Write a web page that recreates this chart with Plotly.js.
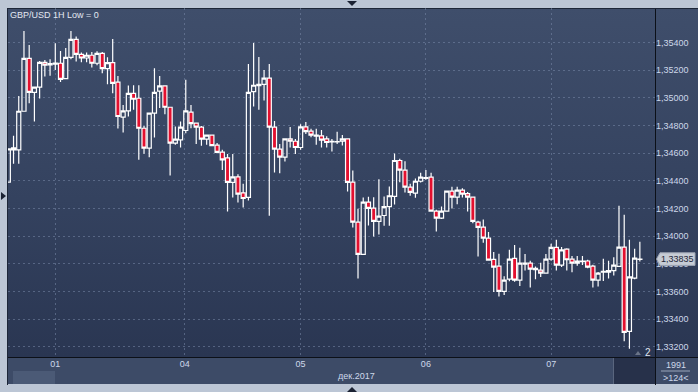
<!DOCTYPE html>
<html>
<head>
<meta charset="utf-8">
<script src="https://cdn.plot.ly/plotly-3.0.1.min.js"></script>
<style>
  html, body { margin:0; padding:0; }
  body { width:698px; height:392px; position:relative; overflow:hidden; background:#bcc6d5; }
  .abs { position:absolute; }
  #plotbg { left:8px; top:8px; width:690px; height:349px; background:linear-gradient(to bottom, #3f4e6b 0%, #34425f 55%, #2a3652 100%); }
  #band { left:8px; top:357px; width:690px; height:27px; background:#3d4b67; }
  #thumb { left:13px; top:371px; width:42px; height:13px; background:#4b5a76; }
  #darkbox { left:613px; top:358px; width:42px; height:26px; background:#27314a; border-left:1px solid #5a667e; }
  #hline { left:8px; top:357px; width:690px; height:1px; background:#0c1018; }
  #vline { left:655px; top:8px; width:1px; height:377px; background:#0c1018; }
  #topline { left:8px; top:8px; width:690px; height:1px; background:#1d2638; }
  #leftline { left:7px; top:8px; width:1px; height:377px; background:#1d2638; }
  #triTop { left:347px; top:1px; width:0; height:0; border-left:5px solid transparent; border-right:5px solid transparent; border-top:5px solid #1b2233; }
  #triLeft { left:1px; top:192px; width:0; height:0; border-top:4px solid transparent; border-bottom:4px solid transparent; border-left:5px solid #1b2233; }
  #triBot { left:347px; top:387px; width:0; height:0; border-left:5px solid transparent; border-right:5px solid transparent; border-bottom:5px solid #1b2233; }
  #triTwo { left:635px; top:351px; width:0; height:0; border-left:3px solid transparent; border-right:3px solid transparent; border-bottom:4px solid #6a7488; }
  #chart { position:absolute; left:0; top:0; width:698px; height:392px; }
</style>
</head>
<body>
<div class="abs" id="plotbg"></div>
<div class="abs" id="band"></div>
<div class="abs" id="thumb"></div>
<div class="abs" id="darkbox"></div>
<div class="abs" id="hline"></div>
<div class="abs" id="vline"></div>
<div class="abs" id="topline"></div>
<div class="abs" id="leftline"></div>
<div class="abs" id="triTop"></div>
<div class="abs" id="triLeft"></div>
<div class="abs" id="triBot"></div>
<div class="abs" id="triTwo"></div>
<div id="chart"></div>
<script>
// ---- data (hourly candles, GBP/USD) ----
const openP = [1.34391,1.34639,1.34625,1.34904,1.35287,1.35041,1.35078,1.35258,1.35239,1.35244,
1.35251,1.35140,1.35294,1.35424,1.35316,1.35289,1.35309,1.35251,1.35323,1.35212,
1.35256,1.35114,1.34861,1.34907,1.35034,1.34998,1.34781,1.34637,1.34890,1.35049,
1.35087,1.34933,1.34673,1.34697,1.34765,1.34897,1.34818,1.34789,1.34702,1.34731,
1.34659,1.34608,1.34567,1.34389,1.34430,1.34314,1.34281,1.35046,1.35090,1.35099,
1.35143,1.34789,1.34630,1.34572,1.34704,1.34687,1.34642,1.34791,1.34760,1.34724,
1.34726,1.34704,1.34683,1.34683,1.34687,1.34704,1.34391,1.34102,1.33869,1.34247,
1.34203,1.34107,1.34150,1.34215,1.34288,1.34548,1.34478,1.34355,1.34312,1.34398,
1.34418,1.34427,1.34182,1.34131,1.34182,1.34326,1.34283,1.34333,1.34309,1.34283,
1.34102,1.34066,1.33987,1.33833,1.33784,1.33601,1.33690,1.33840,1.33683,1.33799,
1.33806,1.33758,1.33755,1.33734,1.33835,1.33919,1.33792,1.33907,1.33835,1.33806,
1.33816,1.33821,1.33784,1.33683,1.33741,1.33741,1.33751,1.33782,1.33922,1.33312,
1.33698,1.33833];
const highP = [1.34632,1.34726,1.35015,1.35485,1.35383,1.35078,1.35268,1.35275,1.35280,1.35395,
1.35340,1.35362,1.35485,1.35444,1.35328,1.35328,1.35333,1.35338,1.35333,1.35294,
1.35427,1.35159,1.34950,1.35090,1.35092,1.35092,1.34798,1.34890,1.35215,1.35159,
1.35087,1.34933,1.34793,1.34830,1.35131,1.34950,1.34818,1.34798,1.34731,1.34731,
1.34675,1.34625,1.34594,1.34594,1.34449,1.34379,1.35246,1.35398,1.35297,1.35203,
1.35246,1.34834,1.34668,1.34709,1.34791,1.34704,1.34810,1.34827,1.34777,1.34777,
1.34769,1.34724,1.34704,1.34755,1.34733,1.34709,1.34475,1.34199,1.34281,1.34285,
1.34283,1.34413,1.34288,1.34360,1.34598,1.34560,1.34543,1.34379,1.34418,1.34459,
1.34480,1.34459,1.34191,1.34215,1.34331,1.34358,1.34358,1.34348,1.34321,1.34288,
1.34112,1.34122,1.34030,1.33886,1.33874,1.33710,1.33902,1.33936,1.33917,1.33871,
1.33823,1.33782,1.33808,1.33871,1.33946,1.33975,1.33922,1.33914,1.33857,1.33857,
1.33857,1.33830,1.33794,1.33741,1.33837,1.33823,1.33849,1.34220,1.34155,1.33975,
1.33910,1.33960];
const lowP = [1.34391,1.34524,1.34524,1.34904,1.34962,1.34830,1.34996,1.35155,1.35160,1.35203,
1.35116,1.35135,1.35280,1.35263,1.35258,1.35258,1.35220,1.35237,1.35179,1.35099,
1.35034,1.34779,1.34750,1.34866,1.34914,1.34553,1.34596,1.34572,1.34714,1.34928,
1.34883,1.34440,1.34661,1.34642,1.34745,1.34781,1.34668,1.34654,1.34661,1.34656,
1.34601,1.34480,1.34179,1.34281,1.34244,1.34208,1.34259,1.34938,1.34914,1.34981,
1.34148,1.34461,1.34456,1.34541,1.34642,1.34594,1.34625,1.34740,1.34716,1.34661,
1.34642,1.34642,1.34613,1.34668,1.34656,1.34324,1.34064,1.33695,1.33869,1.34078,
1.33999,1.34013,1.34076,1.34076,1.34230,1.34391,1.34317,1.34293,1.34278,1.34389,
1.34408,1.34182,1.34035,1.34124,1.34177,1.34201,1.34232,1.34281,1.34179,1.34095,
1.33854,1.33953,1.33825,1.33597,1.33565,1.33575,1.33674,1.33671,1.33640,1.33753,
1.33630,1.33690,1.33705,1.33729,1.33823,1.33753,1.33777,1.33753,1.33739,1.33787,
1.33792,1.33768,1.33630,1.33637,1.33676,1.33695,1.33717,1.33782,1.33240,1.33187,
1.33690,1.33818];
const closeP = [1.34632,1.34625,1.34904,1.35287,1.35041,1.35078,1.35258,1.35237,1.35249,1.35253,
1.35135,1.35294,1.35424,1.35316,1.35289,1.35309,1.35251,1.35323,1.35212,1.35256,
1.35106,1.34866,1.34907,1.35034,1.34991,1.34781,1.34637,1.34890,1.35041,1.35087,
1.34933,1.34673,1.34702,1.34789,1.34907,1.34815,1.34789,1.34702,1.34731,1.34656,
1.34606,1.34553,1.34389,1.34430,1.34305,1.34273,1.35041,1.35092,1.35099,1.35143,
1.34789,1.34630,1.34572,1.34704,1.34687,1.34642,1.34791,1.34757,1.34731,1.34731,
1.34695,1.34678,1.34687,1.34685,1.34704,1.34389,1.34102,1.33869,1.34247,1.34201,
1.34107,1.34146,1.34215,1.34293,1.34548,1.34478,1.34355,1.34317,1.34398,1.34427,
1.34425,1.34182,1.34131,1.34182,1.34326,1.34283,1.34333,1.34305,1.34283,1.34107,
1.34064,1.33987,1.33828,1.33777,1.33601,1.33683,1.33835,1.33683,1.33806,1.33806,
1.33763,1.33768,1.33734,1.33835,1.33919,1.33792,1.33902,1.33830,1.33806,1.33821,
1.33821,1.33777,1.33683,1.33734,1.33746,1.33751,1.33792,1.33922,1.33305,1.33707,
1.33842,1.33835];
const dayTickPos = [9, 33.8, 56, 80, 104];
const dayTickText = ['01','04','05','06','07'];
const priceTicks = [1.332,1.334,1.336,1.338,1.340,1.342,1.344,1.346,1.348,1.350,1.352,1.354];
const titleText = 'GBP/USD 1H Low = 0';
const monthText = 'дек.2017';
const cornerTop = '1991';
const cornerBottom = '>124<';
const markerCount = '2';

// ---- layout helpers (pixel -> paper) ----
const PL = 8, PR = 655, PT = 8, PB = 357;
const px = x => (x - PL) / (PR - PL);
const py = y => (PB - y) / (PB - PT);

const idx = openP.map((_, i) => i);
const lastClose = closeP[closeP.length - 1];
const FONT = 'Liberation Sans, Arial, sans-serif';
const tickCol = '#cdd8ea';
const gridCol = 'rgba(120,137,168,0.55)';

const trace = {
  type: 'candlestick',
  x: idx, open: openP, high: highP, low: lowP, close: closeP,
  increasing: { line: { color: '#ffffff', width: 1.2 }, fillcolor: 'rgba(0,0,0,0)' },
  decreasing: { line: { color: '#ffffff', width: 1.2 }, fillcolor: '#e3102f' },
  whiskerwidth: 0,
  hoverinfo: 'skip',
  showlegend: false
};

const halfH = 6.3 * (0.0252380 / 349);
const tagShape = {
  type: 'path', xref: 'paper', yref: 'y', layer: 'above',
  path: `M ${px(656.5)} ${lastClose} L ${px(660)} ${lastClose + halfH} L ${px(695)} ${lastClose + halfH} L ${px(695)} ${lastClose - halfH} L ${px(660)} ${lastClose - halfH} Z`,
  fillcolor: '#c6ccd5', line: { color: '#9aa3b2', width: 1 }
};

const layout = {
  width: 698, height: 392,
  margin: { l: PL, r: 698 - PR, t: PT, b: 392 - PB },
  paper_bgcolor: 'rgba(0,0,0,0)', plot_bgcolor: 'rgba(0,0,0,0)',
  separators: ', ',
  boxgap: 0.22, boxgroupgap: 0,
  showlegend: false,
  title: { text: titleText, x: 10 / 698, xanchor: 'left', y: 1 - 15 / 392, yanchor: 'middle',
           font: { family: FONT, size: 9, color: '#e2e8f1' } },
  xaxis: {
    type: 'linear', range: [-0.06, 123.9], fixedrange: true,
    rangeslider: { visible: false },
    tickmode: 'array', tickvals: dayTickPos, ticktext: dayTickText,
    ticks: '', showgrid: true, gridcolor: gridCol, griddash: '2px,3px', gridwidth: 1,
    zeroline: false, showline: false,
    tickfont: { family: FONT, size: 9, color: tickCol }
  },
  yaxis: {
    side: 'right', range: [1.331269, 1.356507], fixedrange: true,
    tickmode: 'array', tickvals: priceTicks, tickformat: '.5f',
    ticks: '', showgrid: true, gridcolor: gridCol, griddash: '2px,3px', gridwidth: 1,
    zeroline: false, showline: false,
    tickfont: { family: FONT, size: 9, color: tickCol }
  },
  shapes: [
    tagShape,
    { type: 'line', xref: 'paper', yref: 'paper', x0: px(661), x1: px(690), y0: py(371), y1: py(371),
      line: { color: '#9aa6bb', width: 1 } }
  ],
  annotations: [
    { text: monthText, xref: 'paper', yref: 'paper', x: px(356), y: py(376), showarrow: false,
      xanchor: 'center', yanchor: 'middle', font: { family: FONT, size: 9, color: tickCol } },
    { text: cornerTop, xref: 'paper', yref: 'paper', x: px(676), y: py(364.5), showarrow: false,
      xanchor: 'center', yanchor: 'middle', font: { family: FONT, size: 9, color: tickCol } },
    { text: cornerBottom, xref: 'paper', yref: 'paper', x: px(676), y: py(378), showarrow: false,
      xanchor: 'center', yanchor: 'middle', font: { family: FONT, size: 9, color: tickCol } },
    { text: markerCount, xref: 'paper', yref: 'paper', x: px(648), y: py(352), showarrow: false,
      xanchor: 'center', yanchor: 'middle', font: { family: FONT, size: 10, color: '#e0e6ef' } },
    { text: lastClose.toFixed(5).replace('.', ','), xref: 'paper', yref: 'y', x: px(677), y: lastClose,
      showarrow: false, xanchor: 'center', yanchor: 'middle',
      font: { family: FONT, size: 9, color: '#1f2738' } }
  ]
};

Plotly.newPlot('chart', [trace], layout, { staticPlot: true, displayModeBar: false });
</script>
</body>
</html>
